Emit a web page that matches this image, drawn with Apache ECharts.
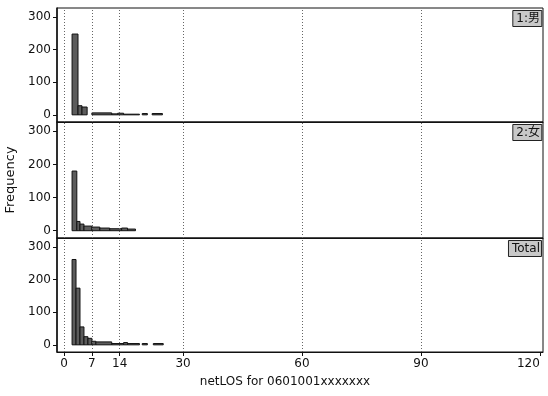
<!DOCTYPE html>
<html>
<head>
<meta charset="utf-8">
<script src="https://cdn.jsdelivr.net/npm/echarts@6/dist/echarts.min.js"></script>
<style>
  html, body {margin: 0; padding: 0; background: #fff;}
  #chart {width: 548px; height: 396px;}
</style>
</head>
<body>
<div id="chart"></div>
<script>
// histogram bins: [from, to, count]
const binsMale = [
  [2, 3.5, 248], [3.5, 4.5, 28], [4.5, 5.8, 24],
  [7, 12, 6], [12, 13.5, 3], [13.5, 15, 5], [15, 19, 2],
  [19.7, 21, 4], [22.2, 24.8, 4]
]
const binsFemale = [
  [2, 3.2, 180], [3.2, 4, 28], [4, 5, 20], [5, 7, 14],
  [7, 9, 11], [9, 11.5, 8], [11.5, 14.5, 6], [14.5, 16, 8], [16, 18, 5]
]
const binsTotal = [
  [2, 3, 262], [3, 4, 174], [4, 5, 55], [5, 6, 25], [6, 7, 20],
  [7, 8, 11], [8, 12, 9], [12, 15, 4], [15, 16, 7], [16, 19, 4],
  [19.7, 21, 4], [22.5, 25, 4]
]
const panelLabels = ['1:男', '2:女', 'Total']
const xTicks = [0, 7, 14, 30, 60, 90, 120]
const refLines = [0, 7, 14, 30, 60, 90]
const yTicks = [0, 100, 200, 300]

const font = '"DejaVu Sans", "Noto Sans CJK JP", sans-serif'
const chart = echarts.init(document.getElementById('chart'))

const gridPos = [
  {top: 8, height: 114},
  {top: 122, height: 116},
  {top: 238, height: 114}
]
const allBins = [binsMale, binsFemale, binsTotal]

const renderBar = (params, api) => {
  const p0 = api.coord([api.value(0), api.value(2)])
  const p1 = api.coord([api.value(1), 0])
  return {
    type: 'rect',
    shape: {x: p0[0], y: p0[1], width: p1[0] - p0[0], height: p1[1] - p0[1]},
    style: {fill: '#5c5c5c', stroke: '#111', lineWidth: 1}
  }
}

const option = {
  backgroundColor: '#fff',
  animation: false,
  title: panelLabels.map((t, i) => ({
    text: t,
    right: 6,
    top: gridPos[i].top + 2,
    padding: [3, 2, 2, 4],
    backgroundColor: '#c8c8c8',
    borderColor: '#222',
    borderWidth: 1,
    textStyle: {fontFamily: font, fontSize: 12, fontWeight: 'normal', color: '#111'}
  })),
  grid: gridPos.map(g => ({
    left: 57, right: 5, top: g.top, height: g.height,
    containLabel: false, outerBoundsMode: 'none',
    show: true, borderColor: '#111', borderWidth: 1, backgroundColor: 'transparent'
  })),
  xAxis: gridPos.map((g, i) => ({
    type: 'value', gridIndex: i, min: -1.8, max: 120.8,
    axisLine: {show: true, onZero: false, lineStyle: {color: '#111'}},
    axisTick: {show: i === 2, length: 4, customValues: xTicks, lineStyle: {color: '#111'}},
    axisLabel: {
      show: i === 2, customValues: xTicks, alignMaxLabel: 'right',
      color: '#111', fontFamily: font, fontSize: 12, margin: 6
    },
    splitLine: {show: false},
    name: i === 2 ? 'netLOS for 0601001xxxxxxx' : '',
    nameLocation: 'middle',
    nameGap: 24,
    nameTextStyle: {fontFamily: font, fontSize: 12, color: '#111', padding: [0, 30, 0, 0]}
  })),
  yAxis: gridPos.map((g, i) => ({
    type: 'value', gridIndex: i, min: -22, max: 328,
    axisLine: {show: true, onZero: false, lineStyle: {color: '#111', width: 1.5}},
    axisTick: {show: true, length: 4, customValues: yTicks, lineStyle: {color: '#111'}},
    axisLabel: {customValues: yTicks, color: '#111', fontFamily: font, fontSize: 12, margin: 6},
    splitLine: {show: false},
    name: i === 1 ? 'Frequency' : '',
    nameLocation: 'middle',
    nameRotate: 90,
    nameGap: 31,
    nameTextStyle: {fontFamily: font, fontSize: 13, color: '#111'}
  })),
  series: allBins.flatMap((bins, i) => [
    {
      type: 'line', xAxisIndex: i, yAxisIndex: i, data: [], silent: true,
      markLine: {
        symbol: 'none', silent: true, label: {show: false},
        lineStyle: {type: [1, 2], color: '#666', width: 1},
        data: refLines.map(v => ({xAxis: v}))
      }
    },
    {
      type: 'custom', xAxisIndex: i, yAxisIndex: i,
      renderItem: renderBar,
      encode: {x: [0, 1], y: 2},
      data: bins
    }
  ])
}

chart.setOption(option)
</script>
</body>
</html>
